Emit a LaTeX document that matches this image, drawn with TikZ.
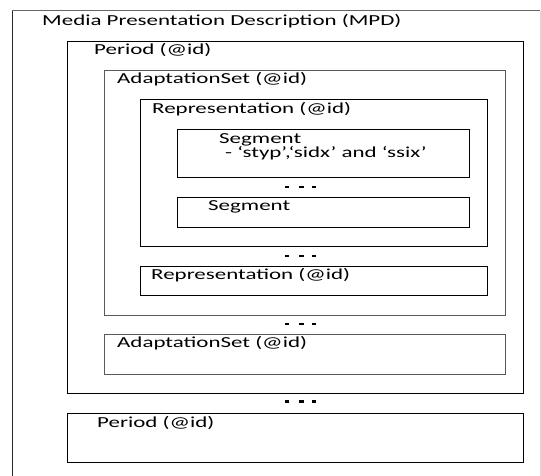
\documentclass[tikz,border=0pt]{standalone}
\usepackage{fontspec}
\setmainfont{Carlito}[FakeStretch=1.5]
\begin{document}
\begin{tikzpicture}[x=1pt,y=-1pt,
  box/.style={draw=#1,line width=1pt,rectangle,inner sep=0pt,anchor=north west},
  box/.default=black,
  title/.style={anchor=base west,inner sep=0pt,font=\fontsize{15.3}{12}\selectfont},
  dotmark/.style={fill=black,inner sep=0pt,minimum width=4.5pt,minimum height=2.6pt,rectangle}]
\useasboundingbox (0,0) rectangle (541,476);

% sizes are width x height in pt, placed at their top-left corner
\newcommand{\boxat}[6][black]{%
  \node[box=#1,minimum width=#5pt,minimum height=#6pt] (#2) at (#3,#4) {};}

% outer MPD frame, running past the bottom edge
\node[inner sep=0pt,anchor=north west,minimum width=528pt,minimum height=470pt] (mpd) at (12,11) {};
\draw[line width=1pt,black!85] (mpd.south west) -- (mpd.north west);
\draw[line width=1pt,black!60] (mpd.north west) -- (mpd.north east);
\draw[line width=1pt,black!15] (mpd.north east) -- (mpd.south east);
\node[title] (tmpd) at (42,26) {Media Presentation Description (MPD)};

% first period and its contents
\boxat{per1}{67}{41}{456}{352}
\node[title] (tper1) at (94,54.5) {Period (@id)};

\boxat[black!65]{as1}{104}{70}{401}{245}
\node[title] (tas1) at (117,84) {AdaptationSet (@id)};

\boxat{rep1}{140}{99}{347}{147}
\node[title] (trep1) at (152,113.5) {Representation (@id)};

\boxat{seg1}{177}{129}{292}{48}
\node[title] (tseg1) at (219,143.5) {Segment};
\node[title] (tseg1b) at (225,158) {- ‘styp’,‘sidx’ and ‘ssix’};

\boxat{seg2}{177}{197}{292}{30}
\node[title] (tseg2) at (208,210) {Segment};

\boxat{rep2}{140}{266}{347}{29}
\node[title] (trep2) at (151,279.5) {Representation (@id)};

\boxat[black!65]{as2}{104}{334}{401}{40}
\node[title] (tas2) at (117,347) {AdaptationSet (@id)};

% second period
\boxat{per2}{67}{413}{456}{49}
\node[title] (tper2) at (97,427) {Period (@id)};

% ellipsis marks between repeated elements
\foreach \y/\n in {187/a,256/b,324/c,401.5/d}{
  \node[dotmark] (\n1) at (287,\y) {};
  \node[dotmark] (\n2) at (301.5,\y) {};
  \node[dotmark] (\n3) at (314,\y) {};
}
\end{tikzpicture}
\end{document}
